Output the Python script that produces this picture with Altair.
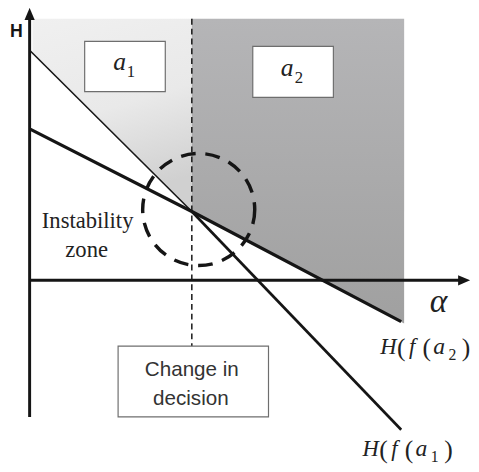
import altair as alt
import pandas as pd

# ---------------- values read from the schematic (conceptual units, origin at axes crossing) ----
# decision lines
alpha_a1 = [0, 165, 378]
H_a1 = [234, 70, -152]
alpha_a2 = [0, 165, 378]
H_a2 = [154, 70, -42]

# shaded decision regions
H_top = 266
alpha_light = [3, 165]
H_light_low = [231, 70]
alpha_dark = [165, 381]
H_dark_low = [70, -44]

# change-in-decision point and instability circle
alpha_switch = 165
H_switch_low = -67
circle_alpha = [172]
circle_H = [72]

# axes extents
H_axis = [-139, 268]
alpha_axis = [0, 440]

# ---------------- helpers -------------------------------------------------------------------
XS = alt.Scale(domain=[-22, 449], nice=False, zero=False)
YS = alt.Scale(domain=[-191, 273], nice=False, zero=False)


def X(f):
    return alt.X(f, type="quantitative", scale=XS, axis=None)


def Y(f):
    return alt.Y(f, type="quantitative", scale=YS, axis=None)


INK = "#151515"
SERIF = "Liberation Serif"
SANS = "Liberation Sans"

# ---------------- regions -------------------------------------------------------------------
light_df = pd.DataFrame({"a": alpha_light, "top": [H_top] * 2, "low": H_light_low})
dark_df = pd.DataFrame({"a": alpha_dark, "top": [H_top] * 2, "low": H_dark_low})

light = alt.Chart(light_df).mark_area(
    color=alt.Gradient(
        gradient="linear",
        stops=[alt.GradientStop(color="#f0f0f0", offset=0),
               alt.GradientStop(color="#e9e9e9", offset=0.55),
               alt.GradientStop(color="#d0d0d0", offset=1)],
        x1=0, y1=0, x2=0.25, y2=1,
    )
).encode(x=X("a"), y=Y("top"), y2="low:Q")

dark = alt.Chart(dark_df).mark_area(
    color=alt.Gradient(
        gradient="linear",
        stops=[alt.GradientStop(color="#b5b5b7", offset=0),
               alt.GradientStop(color="#a0a0a0", offset=1)],
        x1=0, y1=0, x2=0, y2=1,
    )
).encode(x=X("a"), y=Y("top"), y2="low:Q")

# ---------------- dashed decision line ------------------------------------------------------
vline_df = pd.DataFrame({"a": [alpha_switch], "y1": [H_top], "y2": [H_switch_low]})
vline = alt.Chart(vline_df).mark_rule(color=INK, strokeWidth=1.5, strokeDash=[6, 4]).encode(
    x=X("a"), y=Y("y1"), y2="y2:Q"
)

# ---------------- axes ----------------------------------------------------------------------
vax = alt.Chart(pd.DataFrame({"a": [0], "y1": [H_axis[0]], "y2": [H_axis[1]]})).mark_rule(
    color=INK, strokeWidth=3
).encode(x=X("a"), y=Y("y1"), y2="y2:Q")
hax = alt.Chart(pd.DataFrame({"x1": [alpha_axis[0]], "x2": [alpha_axis[1]], "h": [0]})).mark_rule(
    color=INK, strokeWidth=3
).encode(x=X("x1"), x2="x2:Q", y=Y("h"))

up_head = alt.Chart(pd.DataFrame({"a": [0], "h": [H_axis[1] + 3]})).mark_point(
    shape="M0,-1L0.85,1L-0.85,1Z", filled=True, opacity=1, color=INK, size=150, strokeWidth=0
).encode(x=X("a"), y=Y("h"))
right_head = alt.Chart(pd.DataFrame({"a": [alpha_axis[1] + 2], "h": [0]})).mark_point(
    shape="M1,0L-1,0.85L-1,-0.85Z", filled=True, opacity=1, color=INK, size=150, strokeWidth=0
).encode(x=X("a"), y=Y("h"))

# ---------------- decision lines ------------------------------------------------------------
a1_df = pd.DataFrame({"a": alpha_a1, "h": H_a1, "o": [0, 1, 2]})
a2_df = pd.DataFrame({"a": alpha_a2, "h": H_a2, "o": [0, 1, 2]})

a1_upper = alt.Chart(a1_df.iloc[0:2]).mark_line(color=INK, strokeWidth=1.6).encode(
    x=X("a"), y=Y("h"), order="o:Q")
a1_lower = alt.Chart(a1_df.iloc[1:3]).mark_line(color=INK, strokeWidth=2.7).encode(
    x=X("a"), y=Y("h"), order="o:Q")
a2_line = alt.Chart(a2_df).mark_line(color=INK, strokeWidth=3.3).encode(
    x=X("a"), y=Y("h"), order="o:Q")

# ---------------- instability circle --------------------------------------------------------
circle = alt.Chart(pd.DataFrame({"a": circle_alpha, "h": circle_H})).mark_point(
    shape="circle", filled=False, opacity=1, color=INK, size=114 * 114,
    strokeWidth=3.5, strokeDash=[15, 10]
).encode(x=X("a"), y=Y("h"))

# ---------------- boxes ---------------------------------------------------------------------
box_df = pd.DataFrame({
    "x1": [56, 227, 90],
    "x2": [138, 309, 243],
    "y1": [243, 238, -67],
    "y2": [192, 186, -139],
})
boxes = alt.Chart(box_df).mark_rect(fill="white", stroke="#6e6e6e", strokeWidth=1.2).encode(
    x=X("x1"), x2="x2:Q", y=Y("y1"), y2="y2:Q"
)

# ---------------- text ----------------------------------------------------------------------
italic_df = pd.DataFrame([
    # box labels
    ("a", 91.5, 214, 26), ("a", 262, 208, 26),
    # alpha axis label
    ("α", 416, -32, 34),
    # H(f(a2)
    ("H", 365, -75, 23), ("f", 389, -75, 23), ("a", 416.5, -75, 24),
    # H(f(a1)
    ("H", 347, -179, 23), ("f", 371, -179, 23), ("a", 398.5, -179, 24),
], columns=["t", "a", "h", "s"])

upright_df = pd.DataFrame([
    ("1", 103, 207, 17), ("2", 274, 201, 17),
    ("(", 378, -77, 26), ("(", 404, -77, 26), ("2", 430, -81, 16), (")", 444, -77, 26),
    ("(", 360, -181, 26), ("(", 386, -181, 26), ("1", 412, -185, 16), (")", 426, -181, 26),
    ("Instability", 59, 53, 23), ("zone", 58, 24, 23),
], columns=["t", "a", "h", "s"])

italic_txt = alt.Chart(italic_df).mark_text(
    font=SERIF, fontStyle="italic", align="center", baseline="alphabetic", color="#222"
).encode(x=X("a"), y=Y("h"), text="t:N", size=alt.Size("s:Q", scale=None))

upright_txt = alt.Chart(upright_df).mark_text(
    font=SERIF, fontStyle="normal", align="center", baseline="alphabetic", color="#222"
).encode(x=X("a"), y=Y("h"), text="t:N", size=alt.Size("s:Q", scale=None))

change_df = pd.DataFrame({"t": ["Change in", "decision"], "a": [165, 164], "h": [-97, -127]})
change_txt = alt.Chart(change_df).mark_text(
    font=SANS, fontSize=21, align="center", baseline="alphabetic", color="#333"
).encode(x=X("a"), y=Y("h"), text="t:N")

h_lbl = alt.Chart(pd.DataFrame({"t": ["H"], "a": [-13.5], "h": [248]})).mark_text(
    font=SANS, fontWeight="bold", fontSize=18, align="center",
    baseline="alphabetic", color=INK
).encode(x=X("a"), y=Y("h"), text="t:N")

chart = alt.layer(
    light, dark, vline, vax, hax, a1_upper, a1_lower, a2_line, circle, boxes,
    italic_txt, upright_txt, change_txt, h_lbl, up_head, right_head,
).properties(
    width=471, height=464, padding=0, autosize=alt.AutoSizeParams(type="none"),
    background="white",
).configure_view(strokeWidth=0).configure_text(font=SERIF)

chart.save("out.html", embed_options={"renderer": "svg", "actions": False})
